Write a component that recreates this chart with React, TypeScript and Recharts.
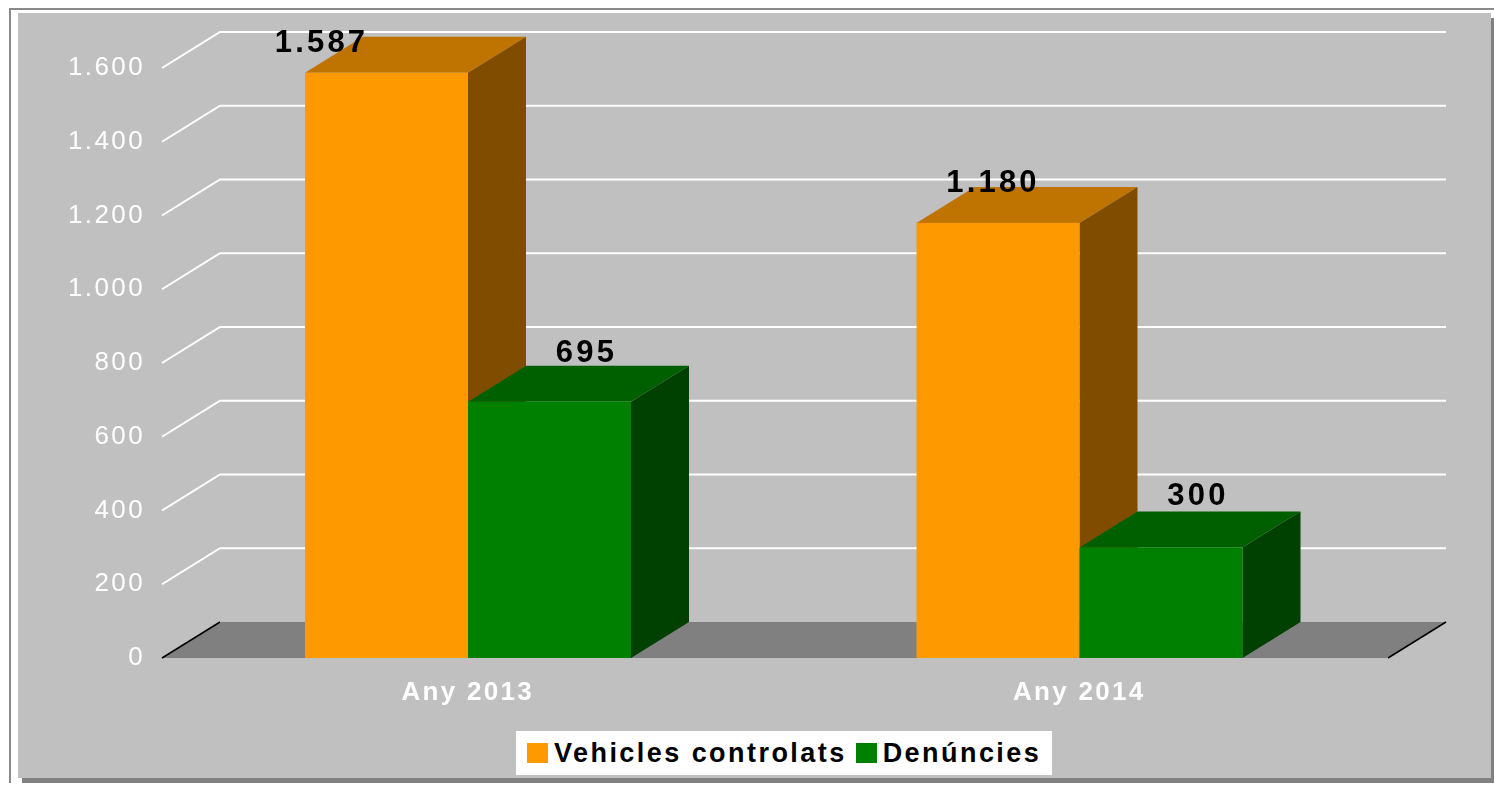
import React from "react";
import { BarChart, Bar, XAxis, YAxis, CartesianGrid, Legend, LabelList } from "recharts";

const years = ["Any 2013", "Any 2014"];
const vehicles = [1587, 1180];
const complaints = [695, 300];
const yTicks = [0, 200, 400, 600, 800, 1000, 1200, 1400, 1600];

const data = years.map((year, i) => ({
  year,
  vehicles: vehicles[i],
  complaints: complaints[i],
}));

const DX = 58;
const DY = -36;
const FLOOR_Y = 658;
const font = "'Liberation Sans', Arial, sans-serif";

const fmt = (v: number) => String(v).replace(/\B(?=(\d{3})+$)/g, ".");

const box = (x: number, y: number, w: number, h: number, front: string, top: string, side: string) => (
  <g>
    <polygon points={`${x},${y} ${x + DX},${y + DY} ${x + w + DX},${y + DY} ${x + w},${y}`} fill={top} />
    <polygon points={`${x + w},${y} ${x + w + DX},${y + DY} ${x + w + DX},${y + h + DY} ${x + w},${y + h}`} fill={side} />
    <rect x={x} y={y} width={w} height={h} fill={front} />
  </g>
);

const OrangeBar = (p: any) => box(p.x, p.y, p.width, p.height, "#ff9900", "#bf7300", "#804d00");
const GreenBar = (p: any) => box(p.x, p.y, p.width, p.height, "#008000", "#006000", "#004000");

// value labels sit at uneven spots in the source chart
const orangeLabelShift = [[-65, -31], [-5, -41]];
const greenLabelShift = [[37, -50], [37, -53]];

const valueLabel = (shift: number[][]) => (p: any) => {
  const [sx, sy] = shift[p.index];
  return (
    <text
      x={p.x + p.width / 2 + sx}
      y={p.y + sy}
      textAnchor="middle"
      dominantBaseline="central"
      fontFamily={font}
      fontWeight="bold"
      fontSize={31}
      letterSpacing={3.2}
      fill="#000"
    >
      {fmt(p.value)}
    </text>
  );
};

const GridLine = (p: any) => {
  const { x1, x2, y1 } = p;
  const isFloor = y1 >= FLOOR_Y - 1;
  if (isFloor) {
    return (
      <g key="floor">
        <polygon
          points={`${x1},${y1} ${x1 + DX},${y1 + DY} ${x2 + DX},${y1 + DY} ${x2},${y1}`}
          fill="#808080"
        />
        <line x1={x1} y1={y1} x2={x1 + DX} y2={y1 + DY} stroke="#000" strokeWidth={1.5} />
        <line x1={x2} y1={y1} x2={x2 + DX} y2={y1 + DY} stroke="#000" strokeWidth={1.5} />
      </g>
    );
  }
  return (
    <polyline
      key={y1}
      points={`${x1},${y1} ${x1 + DX},${y1 + DY} ${x2 + DX},${y1 + DY}`}
      fill="none"
      stroke="#fff"
      strokeWidth={2}
    />
  );
};

const renderLegend = (props: any) => (
  <div
    style={{
      background: "#fff",
      width: 536,
      height: 44,
      boxSizing: "border-box",
      display: "flex",
      alignItems: "center",
      paddingLeft: 11,
      fontFamily: font,
      fontWeight: "bold",
      fontSize: 27,
      letterSpacing: 2.45,
      color: "#000",
      whiteSpace: "nowrap",
    }}
  >
    {props.payload.map((item: any) => (
      <span key={item.value} style={{ display: "flex", alignItems: "center", marginRight: 9 }}>
        <span style={{ width: 21, height: 20, background: item.color, marginRight: 6 }} />
        {item.value}
      </span>
    ))}
  </div>
);

export default function App() {
  return (
    <div style={{ position: "absolute", left: 0, top: 0, width: 1494, height: 788, background: "#fff", overflow: "hidden" }}>
      <div style={{ position: "absolute", left: 9, top: 8, width: 1485, height: 775, borderLeft: "2px solid #8a8a8a", borderTop: "2px solid #8a8a8a", boxSizing: "border-box" }} />
      <div style={{ position: "absolute", left: 22, top: 18, width: 1472, height: 765, background: "#808080" }} />
      <div style={{ position: "absolute", left: 18, top: 13, width: 1473, height: 765, background: "#c0c0c0" }} />
      <div style={{ position: "absolute", left: 0, top: 0, filter: "blur(0.5px)" }}>
        <BarChart
          width={1494}
          height={788}
          data={data}
          barGap={0}
          barSize={163}
          margin={{ top: 68, right: 106, bottom: 90, left: 0 }}
        >
          <CartesianGrid vertical={false} horizontal={GridLine} syncWithTicks />
          <XAxis
            dataKey="year"
            axisLine={false}
            tickLine={false}
            height={40}
            tickMargin={18}
            padding={{ left: 0, right: 3 }}
            tick={{ fontFamily: font, fontWeight: "bold", fontSize: 26, fill: "#fff", letterSpacing: 2.3 }}
          />
          <YAxis
            width={162}
            domain={[0, 1600]}
            ticks={yTicks}
            interval={0}
            axisLine={false}
            tickLine={false}
            tickMargin={11}
            tickFormatter={fmt}
            tick={{ fontFamily: font, fontSize: 26, fill: "#fff", letterSpacing: 2.4, dy: -2 }}
          />
          <Legend
            layout="vertical"
            align="center"
            verticalAlign="middle"
            itemSorter={null}
            content={renderLegend}
            wrapperStyle={{ left: 516, top: 731, width: 536, height: 44 }}
          />
          <Bar dataKey="vehicles" name="Vehicles controlats" fill="#ff9900" shape={OrangeBar} isAnimationActive={false}>
            <LabelList dataKey="vehicles" content={valueLabel(orangeLabelShift)} />
          </Bar>
          <Bar dataKey="complaints" name="Denúncies" fill="#008000" shape={GreenBar} isAnimationActive={false}>
            <LabelList dataKey="complaints" content={valueLabel(greenLabelShift)} />
          </Bar>
        </BarChart>
      </div>
    </div>
  );
}
